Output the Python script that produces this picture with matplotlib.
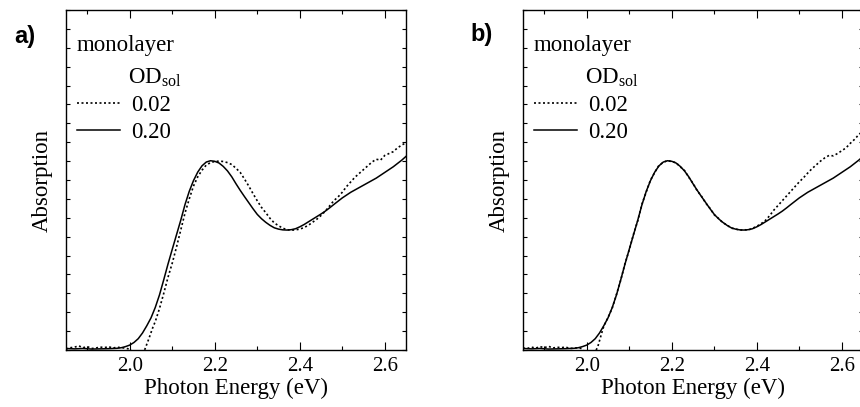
#!/usr/bin/env python3

import matplotlib
matplotlib.use("Agg")
import matplotlib.pyplot as plt
from matplotlib.ticker import MultipleLocator, NullFormatter


# photon energy (eV) and absorption, normalised to the exciton peak
# OD_sol = 0.20 (solid, same in both panels)
energy_020 = [1.85, 1.87, 1.89, 1.91, 1.93, 1.95, 1.97, 1.98, 1.99, 2.00,
              2.01, 2.02, 2.03, 2.04, 2.05, 2.06, 2.07, 2.08, 2.09, 2.10,
              2.11, 2.12, 2.13, 2.14, 2.15, 2.16, 2.17, 2.18, 2.19, 2.20,
              2.21, 2.22, 2.23, 2.24, 2.25, 2.26, 2.27, 2.28, 2.29, 2.30,
              2.31, 2.32, 2.33, 2.34, 2.35, 2.36, 2.37, 2.38, 2.39, 2.40,
              2.41, 2.42, 2.43, 2.44, 2.45, 2.46, 2.47, 2.48, 2.50, 2.52,
              2.54, 2.56, 2.58, 2.60, 2.62, 2.64, 2.65]
abs_020 = [0.008, 0.006, 0.008, 0.005, 0.006, 0.007, 0.009, 0.012, 0.018, 0.026,
           0.040, 0.060, 0.090, 0.128, 0.170, 0.225, 0.292, 0.372, 0.455, 0.533,
           0.610, 0.687, 0.770, 0.840, 0.897, 0.942, 0.975, 0.995, 1.002, 0.999,
           0.990, 0.972, 0.948, 0.917, 0.880, 0.845, 0.812, 0.780, 0.748, 0.718,
           0.695, 0.676, 0.660, 0.647, 0.640, 0.636, 0.635, 0.637, 0.642, 0.652,
           0.664, 0.678, 0.692, 0.706, 0.720, 0.735, 0.752, 0.770, 0.805, 0.835,
           0.860, 0.885, 0.910, 0.940, 0.970, 1.005, 1.025]

# panel a: OD_sol = 0.02 as measured
energy_002a = [1.85, 1.86, 1.87, 1.88, 1.89, 1.90, 1.91, 1.92, 1.93, 1.94,
               1.95, 1.96, 1.97, 1.98, 1.99, 2.00, 2.015, 2.035, 2.045, 2.055,
               2.06, 2.07, 2.08, 2.09, 2.10, 2.11, 2.12, 2.13, 2.14, 2.15,
               2.16, 2.17, 2.18, 2.19, 2.20, 2.21, 2.22, 2.23, 2.24, 2.25,
               2.26, 2.27, 2.28, 2.29, 2.30, 2.31, 2.32, 2.33, 2.34, 2.35,
               2.36, 2.37, 2.38, 2.39, 2.40, 2.41, 2.42, 2.43, 2.44, 2.45,
               2.46, 2.47, 2.48, 2.49, 2.50, 2.51, 2.52, 2.53, 2.54, 2.55,
               2.56, 2.57, 2.58, 2.59, 2.60, 2.61, 2.62, 2.63, 2.64, 2.65]
abs_002a = [0.005, 0.012, 0.015, 0.022, 0.012, 0.018, 0.008, 0.010, 0.016, 0.012,
            0.018, 0.010, 0.015, 0.012, 0.010, 0.004, -0.03, 0.0, 0.06, 0.124,
            0.15, 0.22, 0.30, 0.385, 0.46, 0.545, 0.635, 0.725, 0.80, 0.868,
            0.917, 0.952, 0.979, 0.992, 0.998, 1.000, 0.998, 0.992, 0.982, 0.962,
            0.94, 0.905, 0.868, 0.828, 0.79, 0.755, 0.727, 0.697, 0.673, 0.658,
            0.645, 0.637, 0.634, 0.636, 0.640, 0.648, 0.660, 0.676, 0.692, 0.712,
            0.735, 0.762, 0.79, 0.81, 0.835, 0.865, 0.89, 0.915, 0.935, 0.955,
            0.975, 0.995, 1.01, 1.005, 1.03, 1.04, 1.05, 1.07, 1.085, 1.097]

# panel b: OD_sol = 0.02 shifted onto the 0.20 curve
energy_002b = [1.85, 1.86, 1.87, 1.88, 1.89, 1.90, 1.91, 1.92, 1.93, 1.94,
               1.95, 1.96, 1.97, 1.98, 1.99, 2.00, 2.015, 2.025, 2.035, 2.04,
               2.05, 2.06, 2.07, 2.08, 2.09, 2.10, 2.11, 2.12, 2.13, 2.14,
               2.15, 2.16, 2.17, 2.18, 2.19, 2.20, 2.21, 2.22, 2.23, 2.24,
               2.25, 2.26, 2.27, 2.28, 2.29, 2.30, 2.31, 2.32, 2.33, 2.34,
               2.35, 2.36, 2.37, 2.38, 2.39, 2.40, 2.41, 2.42, 2.43, 2.44,
               2.45, 2.46, 2.47, 2.48, 2.49, 2.50, 2.51, 2.52, 2.53, 2.54,
               2.55, 2.56, 2.57, 2.58, 2.59, 2.60, 2.61, 2.62, 2.63, 2.64,
               2.65]
abs_002b = [0.010, 0.008, 0.015, 0.010, 0.018, 0.012, 0.020, 0.010, 0.015, 0.012,
            0.016, 0.008, 0.010, 0.012, 0.006, -0.03, -0.02, 0.01, 0.088, 0.126,
            0.172, 0.222, 0.295, 0.370, 0.458, 0.530, 0.613, 0.684, 0.773, 0.837,
            0.900, 0.940, 0.978, 0.993, 1.003, 0.997, 0.992, 0.970, 0.950, 0.915,
            0.882, 0.843, 0.814, 0.778, 0.750, 0.716, 0.697, 0.674, 0.662, 0.645,
            0.641, 0.634, 0.637, 0.635, 0.644, 0.655, 0.668, 0.685, 0.710, 0.740,
            0.765, 0.790, 0.815, 0.840, 0.865, 0.890, 0.912, 0.937, 0.960, 0.980,
            1.000, 1.017, 1.030, 1.028, 1.040, 1.055, 1.070, 1.094, 1.115, 1.140,
            1.160]

panel_labels = ["a)", "b)"]
legend_labels = ["0.02", "0.20"]
x_label = "Photon Energy (eV)"
y_label = "Absorption"

plt.rcParams.update({
    "font.family": "Liberation Serif",
    "mathtext.fontset": "custom",
    "mathtext.rm": "Liberation Serif",
    "mathtext.it": "Liberation Serif:italic",
})

fig = plt.figure(figsize=(8.6, 4.07), dpi=100)
ax_a = fig.add_axes([66 / 860, 57 / 407, 340 / 860, 340 / 407])
ax_b = fig.add_axes([523 / 860, 57 / 407, 340 / 860, 340 / 407])

dotted = (0, (1.2, 1.5))
for ax, e_dot, a_dot in [(ax_a, energy_002a, abs_002a), (ax_b, energy_002b, abs_002b)]:
    l1, = ax.plot(e_dot, a_dot, color="black", lw=1.2, ls=dotted)
    l2, = ax.plot(energy_020, abs_020, color="black", lw=1.1)
    ax.set_xlim(1.85, 2.65)
    ax.set_ylim(0, 1.8)
    ax.xaxis.set_major_locator(MultipleLocator(0.2))
    ax.xaxis.set_minor_locator(MultipleLocator(0.1))
    ax.yaxis.set_major_locator(MultipleLocator(0.1))
    ax.yaxis.set_major_formatter(NullFormatter())
    ax.tick_params(axis="both", which="both", direction="in", top=True, right=True, width=0.8)
    ax.tick_params(axis="x", which="major", length=5.5, labelsize=15, pad=5)
    ax.tick_params(axis="x", which="minor", length=3)
    ax.tick_params(axis="y", which="major", length=3)
    for s in ax.spines.values():
        s.set_linewidth(1.0)
    ax.set_xlabel(x_label, fontsize=16.5, labelpad=1)
    ax.set_ylabel(y_label, fontsize=16.5, labelpad=6)

    ax.text(0.032, 0.926, "monolayer", transform=ax.transAxes, fontsize=16.5, va="top", ha="left")
    ax.text(0.182, 0.832, "OD$_{\\mathrm{sol}}$", transform=ax.transAxes, fontsize=16.5, va="top", ha="left")
    ax.legend([l1, l2], legend_labels, loc="upper left", bbox_to_anchor=(0.032, 0.75),
              frameon=False, fontsize=16.5, handlelength=1.9, handletextpad=0.45,
              labelspacing=0.25, borderpad=0, borderaxespad=0)

fig.text(25 / 860, 1 - 36 / 407, panel_labels[0], fontsize=17, fontweight="bold",
         family="Liberation Sans", ha="center", va="center")
fig.text(482 / 860, 1 - 34 / 407, panel_labels[1], fontsize=17, fontweight="bold",
         family="Liberation Sans", ha="center", va="center")

fig.savefig("out.png", dpi=100)
